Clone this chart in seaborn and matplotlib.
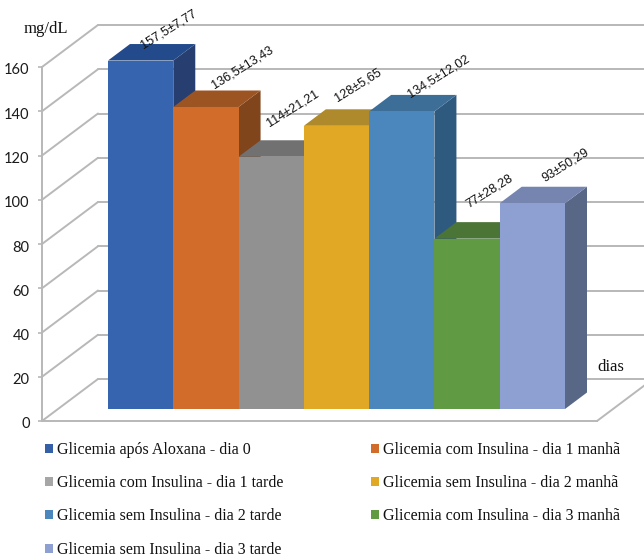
import matplotlib
matplotlib.use("Agg")
import matplotlib.pyplot as plt
from matplotlib.patches import Patch, Polygon
from matplotlib.transforms import ScaledTranslation
import pandas as pd
import seaborn as sns

# Mean blood glucose per group and the printed mean±SD labels
groups = ["Glicemia após Aloxana - dia 0", "Glicemia com Insulina - dia 1 manhã",
          "Glicemia com Insulina - dia 1 tarde", "Glicemia sem Insulina - dia 2 manhã",
          "Glicemia sem Insulina - dia 2 tarde", "Glicemia com Insulina - dia 3 manhã",
          "Glicemia sem Insulina - dia 3 tarde"]
glucose = [157.5, 136.5, 114, 128, 134.5, 77, 93]
value_labels = ["157,5±7,77", "136,5±13,43", "114±21,21", "128±5,65",
                "134,5±12,02", "77±28,28", "93±50,29"]
y_ticks = [0, 20, 40, 60, 80, 100, 120, 140, 160]

front_colors = ["#3664ae", "#d26c2a", "#919191", "#e0a825", "#4b87bd", "#609a43", "#8ea0d2"]
top_colors = ["#234b8b", "#9d5423", "#717171", "#ae8a2c", "#3c6e98", "#4a7537", "#7585b0"]
side_colors = ["#273f70", "#81451c", "#5e5e5e", "#8f7020", "#2f5a80", "#3c5f2c", "#586785"]
legend_colors = ["#3560a8", "#d26c2a", "#a6a6a6", "#e0a825", "#4b87bd", "#609a43", "#8ea0d2"]
grid_color = "#b8b8b8"

W, H = 644, 560
sns.set_style("white")
fig = plt.figure(figsize=(W / 100, H / 100), dpi=100)


def axes_box(left, top, right, bottom):
    """Axes rectangle from pixel edges measured from the top-left corner."""
    return [left / W, 1 - bottom / H, (right - left) / W, (bottom - top) / H]


# Front plane: carries the value axis and the near edge of the floor
front = fig.add_axes(axes_box(42, 67, 597, 421), facecolor="none")
front.set_xlim(0, 1)
front.set_ylim(0, 160)
front.set_yticks(y_ticks)
front.set_xticks([])
front.tick_params(axis="y", length=3, width=1.2, color=grid_color, pad=6,
                  labelsize=10.5, labelcolor="#1a1a1a", left=True)
label_shift = ScaledTranslation(0, -2 / 100, fig.dpi_scale_trans)
for label in front.get_yticklabels():
    label.set_fontfamily("Lato")
    label.set_transform(label.get_transform() + label_shift)
for name, spine in front.spines.items():
    spine.set_visible(name in ("left", "bottom"))
    spine.set_color(grid_color)
    spine.set_linewidth(1.4)

# Bar plane: bars share a baseline set back from the front plane
ax = fig.add_axes(axes_box(108, 55, 565, 409), facecolor="none")
data = pd.DataFrame({"grupo": groups, "glicemia": glucose})
sns.barplot(data=data, x="grupo", y="glicemia", hue="grupo", palette=front_colors,
            width=1, saturation=1, legend=False, ax=ax, linewidth=0)
ax.set_xlim(-0.5, 6.5)
ax.set_ylim(0, 160)
ax.axis("off")

px_x = 457 / 7
px_y = 354 / 160
depth_x, depth_y = 22 / px_x, 16.5 / px_y

# Oblique shifts of the front plane and of the back wall relative to the bars
front_dx, front_dy = -66 / px_x, -12 / px_y
back_dx, back_dy = -10 / px_x, 30 / px_y
left_edge = -0.5
far_right = left_edge + (W + 20 - 108) / px_x
floor_end = left_edge + (597 - 108) / px_x

line_style = dict(color=grid_color, lw=1.4, clip_on=False, zorder=1, solid_capstyle="round")
for v in y_ticks:
    x_front = left_edge + front_dx
    x_back = left_edge + back_dx
    ax.plot([x_front, x_back], [v + front_dy, v + back_dy], **line_style)
    ax.plot([x_back, far_right], [v + back_dy, v + back_dy], **line_style)
ax.plot([floor_end, floor_end + 56 / px_x], [front_dy, back_dy], **line_style)

# Each bar is stacked side, top, front so the next bar hides what it should
bars = sorted(ax.patches, key=lambda p: p.get_x())
offsets_px = [(28, 31), (36, 39), (21, 48), (22, 41), (37, 35), (22, 47), (33, 38)]
for i, (bar, value) in enumerate(zip(bars, glucose)):
    x0, x1 = bar.get_x(), bar.get_x() + bar.get_width()
    side = Polygon([(x1, 0), (x1 + depth_x, depth_y), (x1 + depth_x, value + depth_y), (x1, value)],
                   fc=side_colors[i], ec="none", clip_on=False, zorder=3 + 3 * i)
    top = Polygon([(x0, value), (x0 + depth_x, value + depth_y),
                   (x1 + depth_x, value + depth_y), (x1, value)],
                  fc=top_colors[i], ec="none", clip_on=False, zorder=4 + 3 * i)
    ax.add_patch(side)
    ax.add_patch(top)
    bar.set_zorder(5 + 3 * i)
    bar.set_clip_on(False)
    bar.set_antialiased(False)
    dx, dy = offsets_px[i]
    ax.annotate(value_labels[i], xy=((x0 + x1) / 2, value), xytext=(dx * 0.72, dy * 0.72),
                textcoords="offset points", ha="center", va="center", rotation=32,
                rotation_mode="anchor", fontsize=9.2, family="Liberation Sans",
                color="#111111", zorder=60, annotation_clip=False)

serif = "Liberation Serif"
fig.text(46 / W, 1 - 29 / H, "mg/dL", family=serif, fontsize=12, ha="center", va="center", color="#111111")
fig.text(611 / W, 1 - 367 / H, "dias", family=serif, fontsize=12, ha="center", va="center", color="#111111")

# Legend reads across rows, so the entries are handed over column by column
order = [0, 2, 4, 6, 1, 3, 5]
handles = [Patch(fc=legend_colors[i], ec="none", label=groups[i]) for i in order]
fig.legend(handles=handles, ncols=2, frameon=False, loc="upper left",
           bbox_to_anchor=(45 / W, 1 - 442 / H), borderaxespad=0, borderpad=0,
           handlelength=0.5, handleheight=0.5, handletextpad=0.25,
           columnspacing=5.5, labelspacing=1.08,
           prop={"family": serif, "size": 11.5}, labelcolor="#111111")

fig.savefig("out.png", dpi=100)
